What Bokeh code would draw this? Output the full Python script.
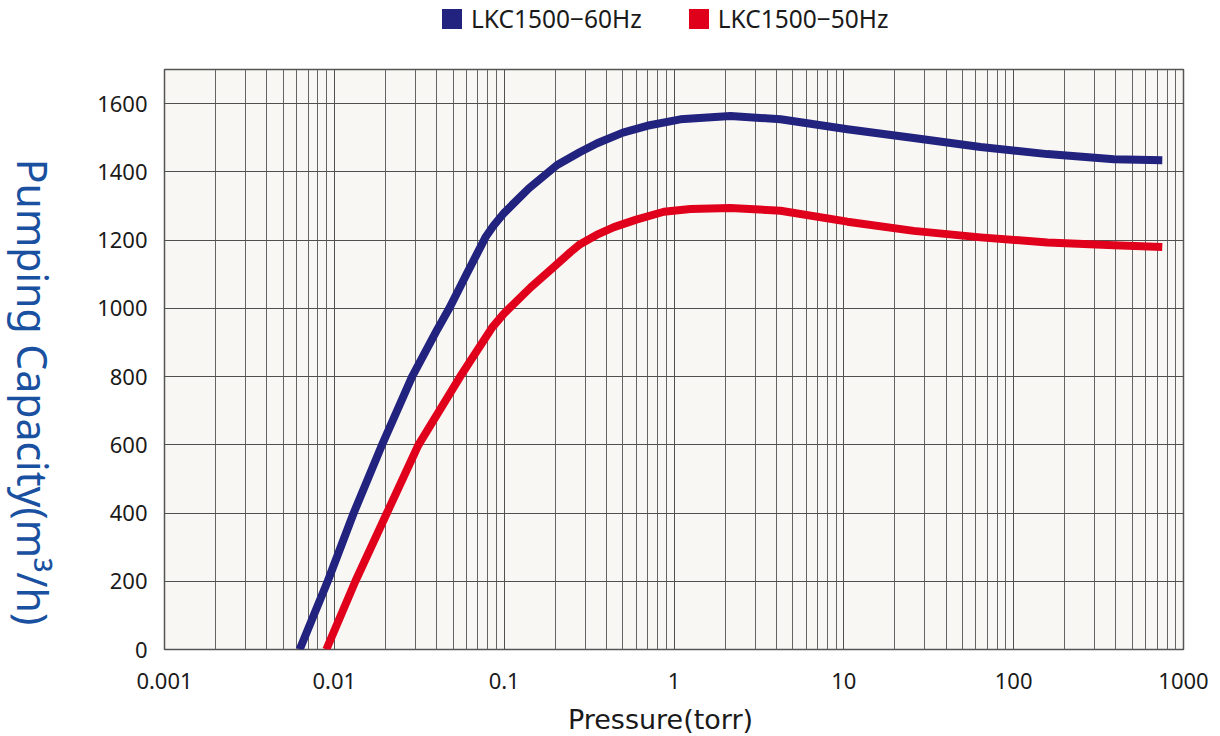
import math
from bokeh.plotting import figure
from bokeh.layouts import column, row
from bokeh.models import (FixedTicker, CustomJSTickFormatter, Legend,
                          LegendItem, Range1d, Label)
from bokeh.embed import file_html
from bokeh.resources import INLINE

# ---- data ----
pressure_60 = [0.00625, 0.00914, 0.013, 0.0191, 0.0287, 0.0404, 0.0475, 0.06,
               0.078, 0.0865, 0.1, 0.14, 0.205, 0.28, 0.353, 0.5, 0.695, 1.09,
               2.15, 4.24, 10.5, 25.8, 63.8, 158, 389, 750]
capacity_60 = [0, 200, 400, 600, 800, 938, 1000, 1100,
               1210, 1242, 1280, 1352, 1420, 1458, 1484, 1515, 1535, 1554,
               1564, 1554, 1525, 1499, 1473, 1452, 1437, 1434]

pressure_50 = [0.00897, 0.0133, 0.0204, 0.0313, 0.0551, 0.0851, 0.1, 0.143,
               0.19, 0.246, 0.28, 0.35, 0.443, 0.6, 0.871, 1.25, 2.15, 4.24,
               10.5, 25.8, 63.8, 158, 389, 750]
capacity_50 = [0, 200, 400, 600, 800, 944, 985, 1061,
               1115, 1165, 1188, 1215, 1238, 1260, 1283, 1291, 1294, 1286,
               1254, 1227, 1208, 1193, 1185, 1180]

series_names = ["LKC1500\u221260Hz", "LKC1500\u221250Hz"]
series_colors = ["#22227f", "#e1001c"]

x_major = [0.001, 0.01, 0.1, 1, 10, 100, 1000]
x_minor = [k * 10.0 ** e for e in range(-3, 3) for k in range(2, 10)]
y_major = [0, 200, 400, 600, 800, 1000, 1200, 1400, 1600]

x_title = "Pressure(torr)"
y_title = "Pumping Capacity(m\u00b3/h)"

FONT = "Noto Sans"
W = 1212
H = 736
LEG_H = 45
YLAB_W = 60
FRAME_TOP = 69
FRAME_BOTTOM = 649
MAIN_BOTTOM_BORDER = 53
MAIN_H = FRAME_BOTTOM + MAIN_BOTTOM_BORDER - LEG_H
XLAB_H = H - LEG_H - MAIN_H


def strip(width, height):
    f = figure(width=width, height=height, x_range=Range1d(0, 1),
               y_range=Range1d(0, 1), x_axis_type=None, y_axis_type=None,
               output_backend="svg", toolbar_location=None, min_border=0)
    f.frame_align = False
    f.outline_line_color = None
    f.background_fill_color = "white"
    f.border_fill_color = "white"
    f.grid.visible = False
    return f


# ---------------- legend strip ----------------
lf = strip(W, LEG_H)
nan = float("nan")
q1 = lf.quad(left=[nan], right=[nan], top=[nan], bottom=[nan],
             fill_color=series_colors[0], line_color=None)
q2 = lf.quad(left=[nan], right=[nan], top=[nan], bottom=[nan],
             fill_color=series_colors[1], line_color=None)
legend = Legend(items=[LegendItem(label=series_names[0], renderers=[q1]),
                       LegendItem(label=series_names[1], renderers=[q2])],
                location=(439, 10), orientation="horizontal",
                glyph_width=25, glyph_height=25, label_standoff=7,
                spacing=44, padding=0, margin=0,
                border_line_color=None, background_fill_alpha=0,
                label_text_font=FONT, label_text_font_size="24.5px",
                label_text_color="#1a1a1a", label_height=25,
                label_text_baseline="middle")
lf.add_layout(legend)

# ---------------- y-axis title strip ----------------
ylf = strip(YLAB_W, MAIN_H)
ylf.add_layout(Label(x=32, y=MAIN_H - (391.5 - LEG_H), x_units="screen",
                     y_units="screen", text=y_title, angle=-math.pi / 2,
                     text_align="center", text_baseline="middle",
                     text_font=FONT, text_font_size="41px",
                     text_color="#1a50a0"))

# ---------------- x-axis title strip ----------------
xlf = strip(W, XLAB_H)
xlf.add_layout(Label(x=660, y=XLAB_H / 2, x_units="screen",
                     y_units="screen", text=x_title, text_align="center",
                     text_baseline="middle", text_font="DejaVu Sans",
                     text_font_size="27px", text_color="#1a1a1a"))

# ---------------- main chart ----------------
p = figure(width=W - YLAB_W, height=MAIN_H, x_axis_type="log",
           x_range=Range1d(0.001, 1000), y_range=Range1d(0, 1700),
           output_backend="svg", toolbar_location=None,
           min_border_left=164 - YLAB_W, min_border_right=29,
           min_border_top=FRAME_TOP - LEG_H,
           min_border_bottom=MAIN_BOTTOM_BORDER)
p.frame_align = False

p.background_fill_color = "#f8f7f4"
p.border_fill_color = "white"
p.outline_line_color = "#555555"
p.outline_line_width = 1.5

p.xaxis.ticker = FixedTicker(ticks=x_major, minor_ticks=x_minor)
p.xaxis.formatter = CustomJSTickFormatter(code="return tick.toString();")
p.yaxis.ticker = FixedTicker(ticks=y_major)

for ax in (p.xaxis, p.yaxis):
    ax.axis_line_color = None
    ax.major_tick_line_color = None
    ax.minor_tick_line_color = None
    ax.major_tick_out = 0
    ax.major_tick_in = 0
    ax.minor_tick_out = 0
    ax.minor_tick_in = 0
    ax.major_label_text_font = FONT
    ax.major_label_text_font_size = "22px"
    ax.major_label_text_color = "#1a1a1a"
p.xaxis.major_label_standoff = 23
p.yaxis.major_label_standoff = 17

p.xgrid.grid_line_color = "#505050"
p.xgrid.grid_line_width = 1
p.xgrid.minor_grid_line_color = "#646464"
p.xgrid.minor_grid_line_width = 1
p.ygrid.grid_line_color = "#505050"
p.ygrid.grid_line_width = 1

p.line(pressure_60, capacity_60, line_color=series_colors[0], line_width=8,
       line_join="round")
p.line(pressure_50, capacity_50, line_color=series_colors[1], line_width=8,
       line_join="round")

layout = column(lf, row(ylf, p, spacing=0), xlf, spacing=0)
open("out.html", "w").write(file_html(layout, INLINE))
